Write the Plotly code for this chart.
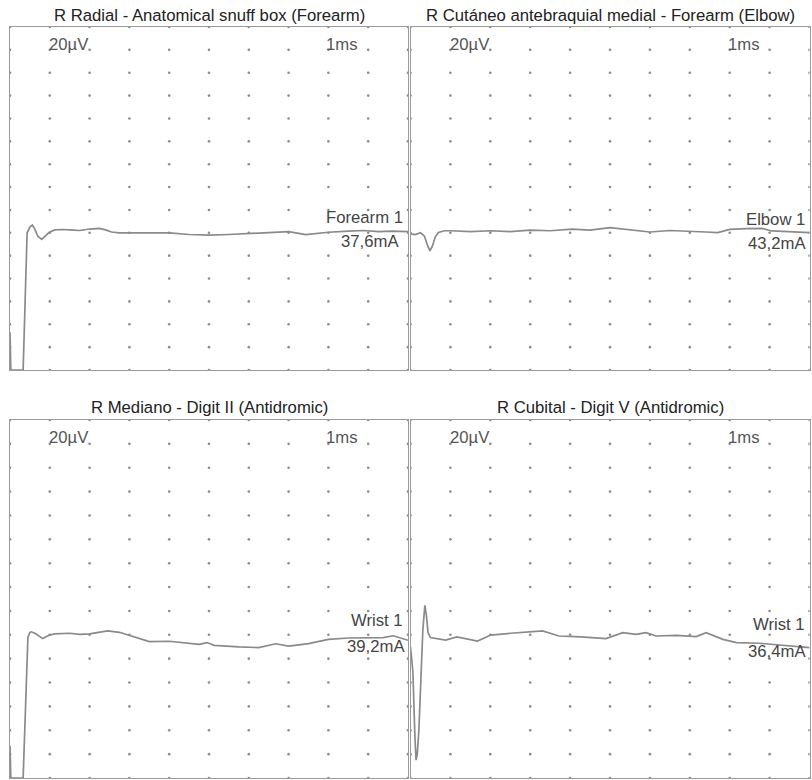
import plotly.graph_objects as go

W, H = 812, 780

# ---------------- data ----------------
titles = [
    "R Radial - Anatomical snuff box (Forearm)",
    "R Cutáneo antebraquial medial - Forearm (Elbow)",
    "R Mediano - Digit II (Antidromic)",
    "R Cubital - Digit V (Antidromic)",
]
scale_amp = "20µV"
scale_time = "1ms"
site_labels = ["Forearm 1", "Elbow 1", "Wrist 1", "Wrist 1"]
intensities = ["37,6mA", "43,2mA", "39,2mA", "36,4mA"]

# time in ms, amplitude in µV (baseline 0)
radial_t = [0, 0.02, 0.33, 0.43, 0.50, 0.56, 0.62, 0.70, 0.80, 0.90, 0.98, 1.12, 1.3, 1.5,
            1.75, 2.0, 2.25, 2.4, 2.55, 2.75, 3.0, 3.5, 4.0, 4.5, 5.0, 5.5, 6.0, 6.5, 7.0,
            7.43, 8.0, 8.5, 8.9, 9.25, 9.6, 10.0]
radial_v = [-87, -120, -120, 0, 5, 6.8, 3.5, -3, -5.7, -2.8, 0.3, 2.5, 2.9, 2.5,
            2, 3.3, 3.8, 2.5, 0.7, 0, 0, -0.5, 0, -1.5, -2, -1.5, -0.5, 0, 1,
            -1.5, 0.5, 1.5, 2, 1, 1.5, 1]

cutaneo_t = [0, 0.12, 0.25, 0.35, 0.43, 0.49, 0.55, 0.62, 0.70, 0.85, 1.0, 1.5, 2.0, 2.5, 3.0,
             3.5, 4.05, 4.5, 5.0, 5.5, 6.0, 6.5, 7.0, 7.4, 7.7, 8.0, 8.4, 8.8, 9.05, 9.5, 10.0]
cutaneo_v = [-1, -1.5, 0, -3, -11.5, -15.7, -11.5, -3.7, 0.3, 1.8, 1.8, 1.1, 1.8, 1.1, 2.4,
             1.8, 3.3, 2.4, 4.5, 2.4, 0.7, 2, 1.6, 0.7, 0.1, 3, 3.6, 3.9, 1.6, 0.7, 0.1]

mediano_t = [0, 0.02, 0.33, 0.45, 0.50, 0.54, 0.65, 0.82, 0.98, 1.12, 1.5, 1.75, 2.0, 2.25,
             2.45, 2.75, 3.0, 3.25, 3.5, 4.0, 4.38, 4.75, 4.95, 5.13, 5.75, 6.25, 6.68, 7.0,
             7.5, 8.0, 8.5, 8.95, 9.38, 9.63, 10.0]
mediano_v = [-93, -120, -120, -2, 2, 2.5, 0.8, -3.2, -0.4, 0.8, 1.3, 0.4, 0.8, 2.1,
             3.2, 2.1, -0.4, -3.2, -5.7, -5.4, -6.5, -8, -6.5, -8.8, -10.2, -10.7, -7.5, -9.4,
             -7.4, -3.8, -2.7, -2.3, -2.3, -0.8, -4.6]

cubital_t = [0, 0.06, 0.11, 0.14, 0.17, 0.21, 0.25, 0.31, 0.36, 0.40, 0.44, 0.50, 0.88, 1.16,
             1.68, 2.01, 2.51, 3.31, 3.72, 4.27, 4.9, 5.32, 5.65, 5.9, 6.16, 6.66, 7.16, 7.41,
             7.83, 8.17, 8.74, 9.09, 9.55, 10.0]
cubital_v = [-10, -31, -85, -105, -100, -80, -46, 4.6, 24.7, 15.8, 1.8, -2.3, -4.4, -1.8,
             -5.2, -0.2, 1.3, 3.2, -1, -1.7, -3.2, 1.8, 0.4, 1.8, -1, -0.4, -1.5, 1.8,
             -3.8, -6.5, -7.1, -8, -9.2, -10.7]

traces_t = [radial_t, cutaneo_t, mediano_t, cubital_t]
traces_v = [radial_v, cutaneo_v, mediano_v, cubital_v]

# axis settings: 10 divisions of 1 ms, 15 divisions of 20 µV
T_MIN, T_MAX, T_DIV = 0, 10, 1
V_MIN, V_MAX, V_DIV = -120, 180, 20

# ---------------- layout (window pixel boxes) ----------------
boxes = [(10, 408, 27, 370), (410.5, 809.5, 27, 370),
         (10, 408, 420, 778), (410.5, 809.5, 420, 778)]
title_y = [15, 15, 407, 407]
label_pos = [  # (right x, y site, right x, y intensity)
    (405, 217, 401, 241.5),
    (807, 219, 808, 243.5),
    (405, 620, 406.5, 646),
    (807, 624, 808, 651),
]

def px(x):
    return x / W

def py(y):
    return 1 - y / H

line_col = "#8a8a8a"
box_col = "#9a9a9a"
dot_col = "#8c8c8c"
text_col = "#444444"
font_fam = "Liberation Sans, Arial, sans-serif"
FS = 16.7

fig = go.Figure()
annotations = []

n_t = int(round((T_MAX - T_MIN) / T_DIV))
n_v = int(round((V_MAX - V_MIN) / V_DIV))
dot_x = []
dot_y = []
for i in range(n_t + 1):
    for j in range(n_v + 1):
        dot_x.append(T_MIN + i * T_DIV)
        dot_y.append(V_MIN + j * V_DIV)

for k in range(4):
    l, r, t, b = boxes[k]
    xa = "x" if k == 0 else f"x{k+1}"
    ya = "y" if k == 0 else f"y{k+1}"
    xkey = "xaxis" if k == 0 else f"xaxis{k+1}"
    ykey = "yaxis" if k == 0 else f"yaxis{k+1}"
    common = dict(showline=True, mirror=True, linecolor=box_col, linewidth=1,
                  showgrid=False, zeroline=False, showticklabels=False, ticks="",
                  fixedrange=True)
    fig.update_layout(**{
        xkey: dict(domain=[px(l), px(r)], range=[T_MIN, T_MAX], anchor=ya, **common),
        ykey: dict(domain=[py(b), py(t)], range=[V_MIN, V_MAX], anchor=xa, **common),
    })
    # grid dots
    fig.add_trace(go.Scatter(x=dot_x, y=dot_y, mode="markers", xaxis=xa, yaxis=ya,
                             marker=dict(size=2.6, color=dot_col), hoverinfo="skip",
                             showlegend=False))
    # waveform
    fig.add_trace(go.Scatter(x=traces_t[k], y=traces_v[k], mode="lines", xaxis=xa, yaxis=ya,
                             line=dict(color=line_col, width=1.7), showlegend=False))
    # title
    annotations.append(dict(text=titles[k], x=px((l + r) / 2), y=py(title_y[k]),
                            xref="paper", yref="paper", xanchor="center", yanchor="middle",
                            showarrow=False, font=dict(size=FS, color="#222222", family=font_fam)))
    # scale labels
    annotations.append(dict(text=scale_amp, x=0.93, y=165, xref=xa, yref=ya,
                            xanchor="left", yanchor="middle", showarrow=False,
                            font=dict(size=FS, color="#555555", family=font_fam)))
    annotations.append(dict(text=scale_time, x=8.8, y=165, xref=xa, yref=ya,
                            xanchor="right", yanchor="middle", showarrow=False,
                            font=dict(size=FS, color="#555555", family=font_fam)))
    # site / intensity labels
    sx, sy, ix, iy = label_pos[k]
    annotations.append(dict(text=site_labels[k], x=px(sx), y=py(sy), xref="paper", yref="paper",
                            xanchor="right", yanchor="middle", showarrow=False,
                            font=dict(size=FS, color=text_col, family=font_fam)))
    annotations.append(dict(text=intensities[k], x=px(ix), y=py(iy), xref="paper", yref="paper",
                            xanchor="right", yanchor="middle", showarrow=False,
                            font=dict(size=FS, color=text_col, family=font_fam)))

fig.update_layout(width=W, height=H, margin=dict(l=0, r=0, t=0, b=0),
                  paper_bgcolor="white", plot_bgcolor="white",
                  annotations=annotations, showlegend=False, hovermode=False)

# remove the default page margin so the figure fills the 812x780 window exactly
fig.write_html("out.html",
               config={"displayModeBar": False, "staticPlot": True},
               post_script="document.body.style.margin='0';document.body.style.overflow='hidden';")
